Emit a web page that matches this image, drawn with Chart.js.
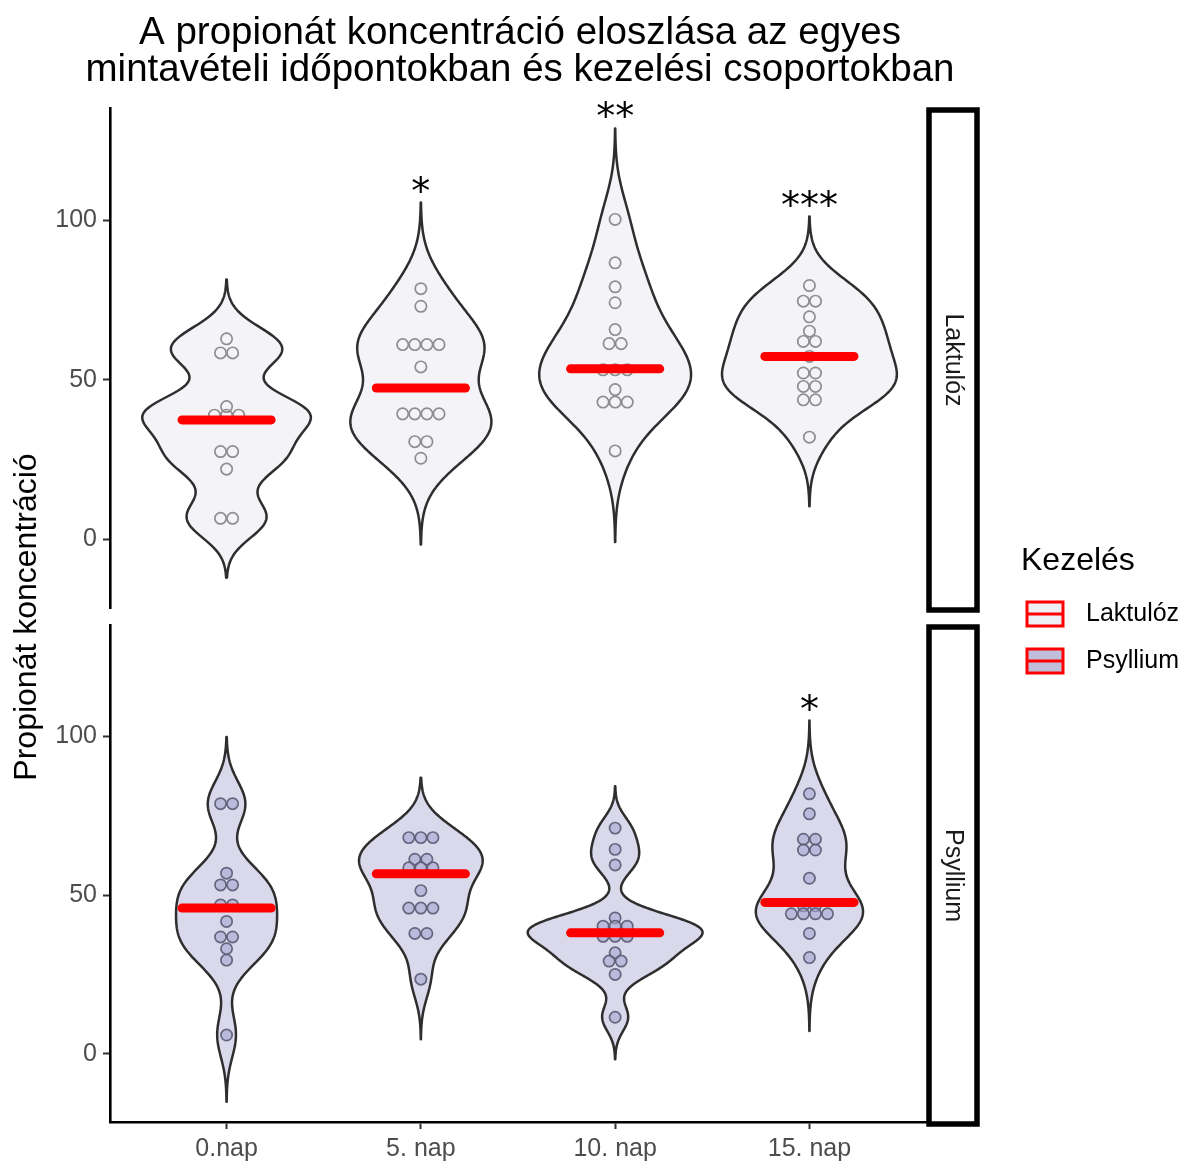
<!DOCTYPE html>
<html>
<head>
<meta charset="utf-8">
<script src="https://cdn.jsdelivr.net/npm/chart.js@4.4.1/dist/chart.umd.min.js"></script>
<style>
  html, body { margin: 0; padding: 0; background: #fff; }
  #wrap { position: relative; width: 1192px; height: 1162px; }
  #wrap canvas { position: absolute; left: 0; top: 0; }
</style>
</head>
<body>
<div id="wrap">
  <canvas id="chartTop" width="1192" height="1162"></canvas>
  <canvas id="chartBottom" width="1192" height="1162"></canvas>
</div>
<script>
// categories and tick labels
const days = ['0.nap', '5. nap', '10. nap', '15. nap'];
const yTicks = [0, 50, 100];

// dot values read from the dotplot, one entry per dot
const laktuloz = [
  [62.8, 58.4, 58.4, 41.6, 38.9, 38.9, 38.9, 27.5, 27.5, 22.0, 6.6, 6.6],
  [78.5, 73.0, 61.0, 61.0, 61.0, 61.0, 54.0, 39.3, 39.3, 39.3, 39.3, 30.6, 30.6, 25.4],
  [100.2, 86.6, 79.1, 74.1, 65.7, 61.3, 61.3, 53.1, 53.1, 53.1, 46.9, 43.0, 43.0, 43.0, 27.7],
  [79.5, 74.6, 74.6, 69.7, 65.2, 62.0, 62.0, 57.3, 52.1, 52.1, 47.9, 47.9, 43.7, 43.7, 32.0]
];
const psyllium = [
  [78.8, 78.8, 56.9, 53.2, 53.2, 46.9, 46.9, 41.7, 36.8, 36.8, 33.1, 29.5, 5.9],
  [68.1, 68.1, 68.1, 61.3, 61.3, 58.6, 58.6, 58.6, 51.4, 45.9, 45.9, 45.9, 37.9, 37.9, 23.5],
  [71.1, 64.4, 59.5, 42.8, 40.2, 40.2, 40.2, 37.0, 37.0, 37.0, 31.8, 29.2, 29.2, 25.0, 11.5],
  [81.9, 75.6, 67.6, 67.6, 64.2, 64.2, 55.3, 46.6, 46.6, 44.1, 44.1, 44.1, 44.1, 37.9, 30.3]
];
// medians (red bars)
const laktulozMedian = [37.4, 47.4, 53.4, 57.3];
const psylliumMedian = [45.9, 56.7, 38.1, 47.7];
// kernel bandwidths, estimated from how far the violin tails reach
const laktulozBw = [6.2, 9.0, 9.5, 7.2];
const psylliumBw = [7.0, 6.3, 4.4, 7.7];
// significance marks
const laktulozStars = ['', '*', '**', '***'];
const psylliumStars = ['', '', '', '*'];

const BINWIDTH = 3.8;
const FONT = '"Liberation Sans", Arial, Helvetica, sans-serif';
Chart.defaults.font.family = FONT;

function kde(values, bw, t) {
  let s = 0;
  for (const v of values) {
    const z = (t - v) / bw;
    s += Math.exp(-0.5 * z * z);
  }
  return s / (values.length * bw * Math.sqrt(2 * Math.PI));
}

function violinCurve(values, bw) {
  const lo = Math.min(...values) - 3 * bw;
  const hi = Math.max(...values) + 3 * bw;
  const pts = [];
  for (let i = 0; i <= 240; i++) {
    const t = lo + (hi - lo) * i / 240;
    pts.push([t, kde(values, bw, t)]);
  }
  return pts;
}

function panelPlugin(groups, medians, bws, stars, look) {
  return {
    id: 'violinPanel',
    afterDatasetsDraw(chart) {
      const { ctx, scales: { x, y } } = chart;
      const curves = groups.map((g, i) => violinCurve(g, bws[i]));
      let dmax = 0;
      curves.forEach(c => c.forEach(p => { if (p[1] > dmax) dmax = p[1]; }));
      const step = x.getPixelForValue(1) - x.getPixelForValue(0);
      const dot = y.getPixelForValue(0) - y.getPixelForValue(BINWIDTH);

      ctx.save();
      groups.forEach((vals, i) => {
        const cx = x.getPixelForValue(i);
        const c = curves[i];
        // violin
        ctx.beginPath();
        c.forEach((p, k) => {
          const px = cx + 0.45 * step * p[1] / dmax;
          const py = y.getPixelForValue(p[0]);
          if (k === 0) ctx.moveTo(px, py); else ctx.lineTo(px, py);
        });
        for (let k = c.length - 1; k >= 0; k--) {
          ctx.lineTo(cx - 0.45 * step * c[k][1] / dmax, y.getPixelForValue(c[k][0]));
        }
        ctx.closePath();
        ctx.fillStyle = look.violinFill;
        ctx.fill();
        ctx.lineWidth = 2.5;
        ctx.strokeStyle = '#2e2e2e';
        ctx.lineJoin = 'round';
        ctx.stroke();

        // dots, stacked sideways per bin
        const rows = new Map();
        vals.forEach(v => rows.set(v, (rows.get(v) || 0) + 1));
        ctx.lineWidth = 1.7;
        rows.forEach((n, v) => {
          const py = y.getPixelForValue(v);
          for (let j = 0; j < n; j++) {
            const px = cx + (j - (n - 1) / 2) * dot;
            ctx.beginPath();
            ctx.arc(px, py, dot / 2 - 0.4, 0, Math.PI * 2);
            ctx.fillStyle = look.dotFill;
            ctx.fill();
            ctx.strokeStyle = look.dotStroke;
            ctx.stroke();
          }
        });

        // median bar
        const my = y.getPixelForValue(medians[i]);
        ctx.beginPath();
        ctx.moveTo(cx - 0.25 * step + 4, my);
        ctx.lineTo(cx + 0.25 * step - 4, my);
        ctx.lineWidth = 9;
        ctx.lineCap = 'round';
        ctx.strokeStyle = '#ff0000';
        ctx.stroke();
        ctx.lineCap = 'butt';

        // significance stars
        if (stars[i]) {
          const tip = y.getPixelForValue(Math.max(...vals) + 3 * bws[i]);
          ctx.font = '38px "DejaVu Sans", sans-serif';
          ctx.fillStyle = '#000';
          ctx.textAlign = 'center';
          ctx.textBaseline = 'alphabetic';
          const m = ctx.measureText(stars[i]);
          const cy = tip - 19;
          ctx.fillText(stars[i], cx, cy + (m.actualBoundingBoxAscent - m.actualBoundingBoxDescent) / 2);
        }
      });
      ctx.restore();
    },
    afterDraw(chart) {
      const { ctx, chartArea } = chart;
      // facet strip
      ctx.save();
      ctx.lineWidth = 5.5;
      ctx.strokeStyle = '#000';
      ctx.fillStyle = '#fff';
      const sx = chartArea.right + 3, sw = 48;
      ctx.fillRect(sx, chartArea.top + 2, sw, chartArea.bottom - chartArea.top);
      ctx.strokeRect(sx, chartArea.top + 2, sw, chartArea.bottom - chartArea.top);
      ctx.translate(sx + sw / 2, (chartArea.top + chartArea.bottom) / 2 + 2);
      ctx.rotate(Math.PI / 2);
      ctx.font = '25px ' + FONT;
      ctx.fillStyle = '#1a1a1a';
      ctx.textAlign = 'center';
      ctx.textBaseline = 'middle';
      ctx.fillText(look.strip, 0, 0);
      ctx.restore();
    }
  };
}

const decorPlugin = {
  id: 'decor',
  afterDraw(chart) {
    const { ctx, chartArea } = chart;
    ctx.save();
    // title
    ctx.fillStyle = '#000';
    ctx.textAlign = 'center';
    ctx.textBaseline = 'alphabetic';
    ctx.font = '38.5px ' + FONT;
    const tx = (chartArea.left + chartArea.right) / 2 + 2;
    ctx.fillText('A propionát koncentráció eloszlása az egyes', tx, 44);
    ctx.fillText('mintavételi időpontokban és kezelési csoportokban', tx, 81);

    // y axis title, centred over both panels
    ctx.save();
    ctx.translate(27, 617);
    ctx.rotate(-Math.PI / 2);
    ctx.font = '32px ' + FONT;
    ctx.textBaseline = 'middle';
    ctx.fillText('Propionát koncentráció', 0, 0);
    ctx.restore();

    // legend
    ctx.textAlign = 'left';
    ctx.textBaseline = 'middle';
    ctx.font = '32px ' + FONT;
    ctx.fillText('Kezelés', 1021, 561);
    const keys = [['Laktulóz', '#efeff6', 614], ['Psyllium', '#bfbfdb', 661]];
    ctx.font = '25px ' + FONT;
    keys.forEach(([label, fill, ky]) => {
      ctx.fillStyle = fill;
      ctx.fillRect(1027, ky - 12, 36, 24);
      ctx.strokeStyle = '#ff0000';
      ctx.lineWidth = 3;
      ctx.strokeRect(1027, ky - 12, 36, 24);
      ctx.beginPath();
      ctx.moveTo(1027, ky);
      ctx.lineTo(1063, ky);
      ctx.stroke();
      ctx.fillStyle = '#000';
      ctx.fillText(label, 1086, ky);
    });
    ctx.restore();
  }
};

function yAxis() {
  return {
    type: 'linear',
    min: -21.5,
    max: 135.1,
    afterBuildTicks: s => { s.ticks = yTicks.map(v => ({ value: v })); },
    afterFit: s => { s.width = 70; },
    ticks: { color: '#4d4d4d', font: { size: 25 }, padding: 6 },
    grid: { display: true, drawOnChartArea: false, drawTicks: true, tickLength: 7, tickWidth: 2, tickColor: '#333' },
    border: { display: true, color: '#000', width: 2.6 }
  };
}

function makeChart(id, isBottom, groups, medians, bws, stars, look, extra) {
  return new Chart(document.getElementById(id), {
    type: 'scatter',
    data: { datasets: [] },
    options: {
      responsive: false,
      animation: false,
      layout: { padding: { left: 40, right: 266, top: isBottom ? 625 : 108, bottom: isBottom ? 0 : 554 } },
      plugins: { legend: { display: false }, tooltip: { enabled: false }, title: { display: false } },
      scales: {
        x: {
          type: 'linear',
          min: -0.6,
          max: 3.6,
          display: isBottom,
          afterBuildTicks: s => { s.ticks = days.map((d, i) => ({ value: i })); },
          afterFit: s => { if (isBottom) s.height = 40; },
          ticks: { color: '#4d4d4d', font: { size: 25 }, padding: 5, callback: v => days[v] },
          grid: { display: true, drawOnChartArea: false, drawTicks: true, tickLength: 7, tickWidth: 2, tickColor: '#333' },
          border: { display: true, color: '#000', width: 2.6 }
        },
        y: yAxis()
      }
    },
    plugins: [panelPlugin(groups, medians, bws, stars, look)].concat(extra)
  });
}

makeChart('chartTop', false, laktuloz, laktulozMedian, laktulozBw, laktulozStars,
  { violinFill: '#f4f4f8', dotFill: 'rgba(0,0,0,0)', dotStroke: '#8e8e8e', strip: 'Laktulóz' }, [decorPlugin]);
makeChart('chartBottom', true, psyllium, psylliumMedian, psylliumBw, psylliumStars,
  { violinFill: '#d9d9eb', dotFill: 'rgba(165,165,210,0.6)', dotStroke: 'rgba(90,90,115,0.9)', strip: 'Psyllium' }, []);
</script>
</body>
</html>
